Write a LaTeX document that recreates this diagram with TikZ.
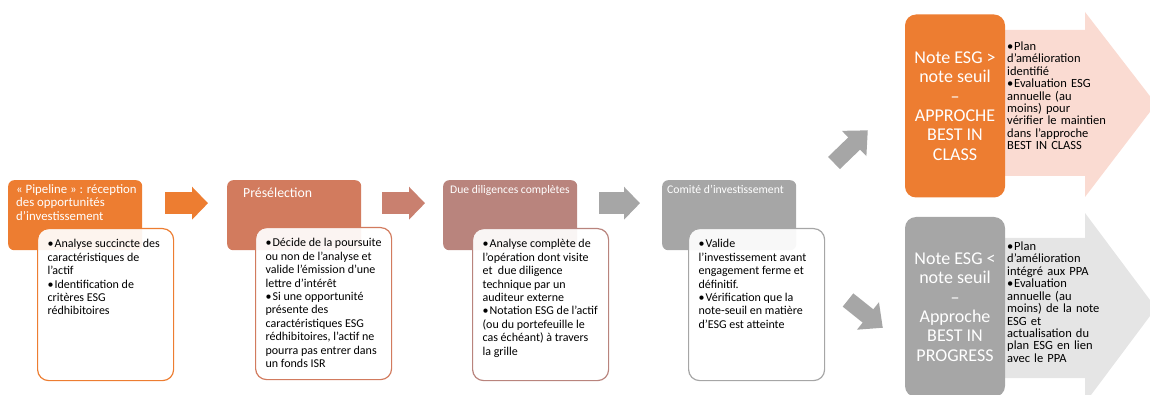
\documentclass[tikz,border=0pt]{standalone}
\usepackage{fontspec}
\setmainfont{Carlito}
\usetikzlibrary{arrows.meta,positioning,calc}

\definecolor{orangeESG}{HTML}{ED7D31}
\definecolor{brique}{HTML}{D27B5E}
\definecolor{fleche2}{HTML}{C9806F}
\definecolor{vieuxrose}{HTML}{B9847D}
\definecolor{grisESG}{HTML}{A6A6A6}
\definecolor{rosepale}{HTML}{FADBD2}
\definecolor{grispale}{HTML}{E5E5E5}

% bullet with hanging indent
\newcommand\puce{\par\noindent\hangindent=7pt\hangafter=1\makebox[7pt][l]{\textbullet}}
% text of a white box, kept at the top
\newcommand\contenu[1]{\parbox[t][130pt][t]{116pt}{\raggedright #1}}

\begin{document}
\begin{tikzpicture}[x=1pt,y=1pt,
    entete/.style={rectangle, rounded corners=6, anchor=north west,
        minimum width=134, minimum height=70, inner sep=0},
    titre/.style={anchor=north west, text=white, align=left, inner xsep=8, inner ysep=5},
    detail/.style={rectangle, rounded corners=11, anchor=north west, fill=white,
        fill opacity=0.92, text opacity=1, line width=1.2,
        inner xsep=10, inner ysep=11, font=\fontsize{12}{13.4}\selectfont},
    issue/.style={rectangle, rounded corners=11, minimum width=100, text=white,
        align=center, font=\fontsize{18}{19.4}\selectfont},
    remarque/.style={anchor=north west, text width=112, align=left, inner sep=3,
        font=\fontsize{12.5}{12.4}\selectfont},
    bloc/.style={line width=22, -{Triangle[width=32pt,length=16pt]}},
    oblique/.style={line width=17, grisESG, -{Triangle[width=34pt,length=19pt]}}]

    \useasboundingbox (0,0) rectangle (1150,-395);

    % big background arrows
    \fill[rosepale] (1000,-30) -- (1085,-30) -- (1085,-12) -- (1156,-104)
        -- (1085,-197) -- (1085,-176) -- (1000,-176) -- cycle;
    \fill[grispale] (1000,-238) -- (1085,-238) -- (1085,-213) -- (1156,-308)
        -- (1085,-403) -- (1085,-378) -- (1000,-378) -- cycle;

    % steps
    \node[entete, fill=orangeESG] (pipeline) at (8,-180) {};
    \node[titre, font=\fontsize{12.8}{13.5}\selectfont, inner ysep=4] (pipelineT) at (pipeline.north west)
        {« Pipeline » : réception\\des opportunités\\d’investissement};
    \node[entete, fill=brique] (preselection) at (227,-180) {};
    \node[titre, font=\fontsize{13.8}{15}\selectfont, inner xsep=16, inner ysep=8] (preselectionT)
        at (preselection.north west) {Présélection};
    \node[entete, fill=vieuxrose] (diligences) at (443,-180) {};
    \node[titre, font=\fontsize{11.6}{13}\selectfont, inner xsep=7] (diligencesT)
        at (diligences.north west) {Due diligences complètes};
    \node[entete, fill=grisESG] (comite) at (662,-180) {};
    \node[titre, font=\fontsize{11.7}{13}\selectfont, inner xsep=5] (comiteT)
        at (comite.north west) {Comité d’investissement};

    \node[detail, draw=orangeESG] (pipelineD) at (37,-228) {\contenu{%
        \puce Analyse succincte des\\caractéristiques de\\l’actif
        \puce Identification de\\critères ESG\\rédhibitoires}};
    \node[detail, draw=brique] (preselectionD) at (255,-227) {\contenu{%
        \puce Décide de la poursuite\\ou non de l'analyse et\\valide l'émission d'une\\lettre d'intérêt
        \puce Si une opportunité\\présente des\\caractéristiques ESG\\rédhibitoires, l’actif ne\\pourra pas entrer dans\\un fonds ISR}};
    \node[detail, draw=vieuxrose] (diligencesD) at (472,-228) {\contenu{%
        \puce Analyse complète de\\l’opération dont visite\\et~ due diligence\\technique par un\\auditeur externe
        \puce Notation ESG de l’actif\\(ou du portefeuille le\\cas échéant) à travers\\la grille}};
    \node[detail, draw=grisESG] (comiteD) at (688,-228) {\contenu{%
        \puce Valide\\l’investissement avant\\engagement ferme et\\définitif.
        \puce Vérification que la\\note-seuil en matière\\d’ESG est atteinte}};

    % arrows between steps
    \draw[bloc, orangeESG] ([xshift=23,yshift=12]pipeline.east) -- ([xshift=-19,yshift=12]preselection.west);
    \draw[bloc, fleche2] ([xshift=21,yshift=12]preselection.east) -- ([xshift=-18,yshift=12]diligences.west);
    \draw[bloc, grisESG] ([xshift=22,yshift=12]diligences.east) -- ([xshift=-22,yshift=12]comite.west);

    % outcomes
    \node[issue, fill=orangeESG, minimum height=183] (bestclass) at (955,-106)
        {Note ESG >\\note seuil\\–\\APPROCHE\\BEST IN\\CLASS};
    \node[issue, fill=grisESG, minimum height=180] (bestprogress) at (955,-307)
        {Note ESG <\\note seuil\\–\\Approche\\BEST IN\\PROGRESS};

    \coordinate (departHaut) at (834,-163);
    \coordinate (departBas) at (848,-300);
    \draw[oblique] (departHaut) -- ([xshift=-37,yshift=-116]bestclass.north west);
    \draw[oblique] (departBas) -- ([xshift=-22,yshift=-111]bestprogress.north west);

    \node[remarque] (bestclassR) at (1004,-35)
        {\puce Plan\\d’amélioration\\identifié
         \puce Evaluation ESG\\annuelle (au\\moins) pour\\vérifier le maintien\\dans l’approche\\BEST IN CLASS};
    \node[remarque] (bestprogressR) at (1004,-235)
        {\puce Plan\\d'amélioration\\intégré aux PPA
         \puce Evaluation\\annuelle (au\\moins) de la note\\ESG et\\actualisation du\\plan ESG en lien\\avec le PPA};
\end{tikzpicture}
\end{document}
